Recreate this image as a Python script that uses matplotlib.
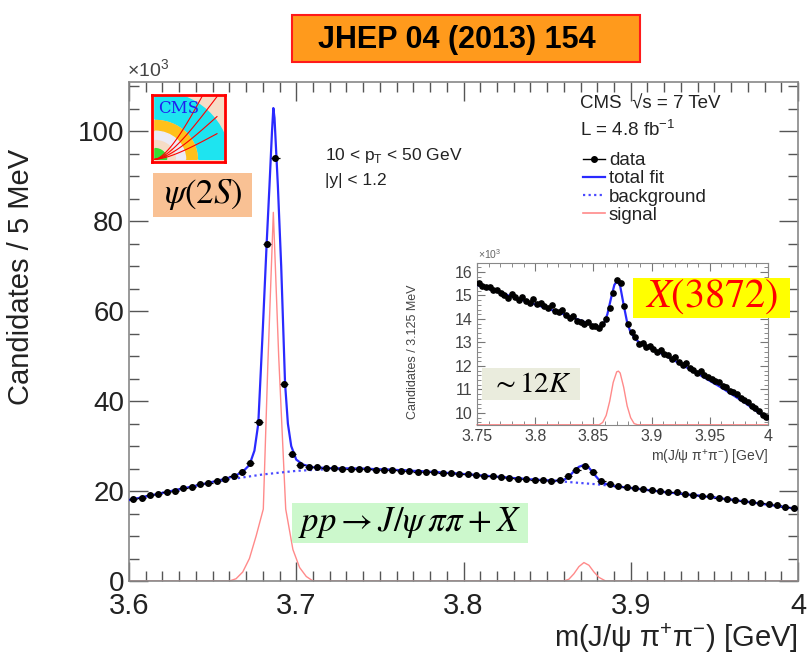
import numpy as np
import matplotlib.pyplot as plt
from matplotlib.patches import Rectangle, Wedge
from matplotlib.lines import Line2D
from matplotlib.ticker import MultipleLocator

plt.rcParams['font.family'] = ['Liberation Sans', 'DejaVu Sans']

# ---- main plot: J/psi pi pi mass, 5 MeV bins, counts in 10^3 ----
m_lo, m_hi, nbins = 3.6, 4.0, 80
counts = [18.2, 18.5, 19.1, 19.3, 19.9, 20.1, 20.7, 20.9, 21.5, 21.7,
          22.3, 22.6, 23.3, 24.3, 26.2, 35.3, 75.0, 94.1, 43.9, 28.2,
          25.8, 25.4, 25.3, 25.1, 25.2, 25.0, 25.0, 24.9, 24.9, 24.8,
          24.8, 24.6, 24.5, 24.5, 24.3, 24.3, 24.2, 24.0, 24.0, 23.9,
          23.7, 23.6, 23.4, 23.3, 23.2, 23.0, 22.8, 22.7, 22.5, 22.4,
          22.3, 22.5, 23.3, 24.8, 25.6, 24.2, 22.3, 21.6, 21.2, 20.9,
          20.7, 20.5, 20.3, 20.1, 19.9, 19.7, 19.4, 19.2, 19.0, 18.8,
          18.5, 18.3, 18.1, 17.9, 17.6, 17.4, 17.1, 16.8, 16.5, 16.2]

# fit curves
total_m = [3.600, 3.620, 3.640, 3.655, 3.660, 3.664, 3.668, 3.672, 3.675, 3.6773,
           3.680, 3.6823, 3.684, 3.6855, 3.6863, 3.687, 3.689, 3.691, 3.6933, 3.695,
           3.697, 3.700, 3.704, 3.710, 3.720, 3.740, 3.760, 3.780, 3.800, 3.820,
           3.840, 3.855, 3.860, 3.863, 3.866, 3.869, 3.872, 3.875, 3.878, 3.881,
           3.885, 3.890, 3.900, 3.920, 3.940, 3.960, 3.980, 4.000]
total_v = [18.0, 19.6, 21.2, 22.5, 23.0, 23.5, 24.3, 25.8, 29.0, 35.0,
           56.0, 75.0, 88.0, 100.0, 105.2, 103.0, 88.0, 70.0, 44.0, 35.0,
           30.0, 27.0, 25.9, 25.3, 25.1, 25.0, 24.7, 24.3, 23.8, 23.2,
           22.6, 22.3, 22.5, 23.2, 24.4, 25.4, 25.8, 25.2, 23.8, 22.5,
           21.6, 21.1, 20.7, 19.8, 19.0, 18.1, 17.1, 16.0]
bkg_m = [3.60, 3.62, 3.64, 3.66, 3.68, 3.70, 3.72, 3.74, 3.76, 3.78, 3.80,
         3.82, 3.84, 3.86, 3.88, 3.90, 3.92, 3.94, 3.96, 3.98, 4.00]
bkg_v = [18.0, 19.6, 21.1, 22.6, 23.7, 24.5, 24.9, 24.9, 24.7, 24.3, 23.8,
         23.2, 22.6, 22.1, 21.5, 20.7, 19.8, 19.0, 18.1, 17.1, 16.0]
sig_m = [3.600, 3.660, 3.664, 3.668, 3.672, 3.676, 3.6803, 3.683, 3.6863, 3.6895,
         3.6937, 3.698, 3.702, 3.706, 3.710, 3.860, 3.863, 3.866, 3.869, 3.872,
         3.875, 3.878, 3.881, 3.885, 4.000]
sig_v = [0, 0, 0.5, 2.0, 5.0, 10.0, 16.0, 48.0, 82.0, 50.0,
         16.0, 7.0, 3.0, 1.0, 0, 0, 0.4, 1.6, 3.2, 4.1,
         3.5, 2.0, 0.8, 0, 0]

# ---- inset: X(3872) region, 3.125 MeV bins ----
in_lo, in_hi, in_nbins = 3.75, 4.0, 80
in_counts = [15.55, 15.40, 15.35, 15.38, 15.22, 15.25, 15.10, 15.02, 14.88, 15.05,
             14.95, 14.80, 14.92, 14.78, 14.70, 14.85, 14.62, 14.70, 14.55, 14.48,
             14.60, 14.35, 14.28, 14.40, 14.15, 14.05, 14.12, 13.92, 13.88, 13.80,
             13.85, 13.70, 13.68, 13.62, 13.78, 14.00, 14.45, 15.10, 15.65, 15.55,
             14.55, 13.80, 13.45, 13.25, 12.95, 12.98, 12.80, 12.85, 12.72, 12.60,
             12.68, 12.50, 12.45, 12.30, 12.38, 12.15, 12.05, 12.12, 11.90, 11.85,
             11.72, 11.78, 11.60, 11.52, 11.45, 11.38, 11.30, 11.15, 11.10, 10.95,
             10.88, 10.80, 10.62, 10.55, 10.48, 10.30, 10.22, 10.10, 9.92, 9.85]
in_fit_m = [3.75, 3.76, 3.78, 3.80, 3.82, 3.84, 3.85, 3.855, 3.859, 3.862,
            3.865, 3.868, 3.8705, 3.873, 3.876, 3.879, 3.882, 3.886, 3.89, 3.90,
            3.92, 3.94, 3.96, 3.98, 4.00]
in_fit_v = [15.45, 15.28, 14.95, 14.62, 14.28, 13.92, 13.72, 13.65, 13.8, 14.2,
            14.85, 15.45, 15.62, 15.4, 14.6, 13.85, 13.42, 13.15, 12.98, 12.75,
            12.22, 11.66, 11.08, 10.44, 9.72]
in_sig_m = [3.75, 3.855, 3.858, 3.861, 3.864, 3.867, 3.870, 3.8715, 3.873, 3.876,
            3.879, 3.882, 3.885, 3.888, 4.0]
in_sig_v = [9.5, 9.5, 9.6, 9.9, 10.5, 11.3, 11.75, 11.78, 11.7, 11.1,
            10.3, 9.8, 9.55, 9.5, 9.5]

W, H = 807, 660
def fx(px):
    return px / W
def fy(py):
    return 1 - py / H

BLUE = '#2a2aff'
PINK = '#ff8a8a'
TXT = '#222222'

fig = plt.figure(figsize=(W / 100, H / 100), dpi=100)

# ---- main axes ----
ax = fig.add_axes([fx(129), fy(581), fx(798) - fx(129), fy(82) - fy(581)])
w = (m_hi - m_lo) / nbins
centres = m_lo + w * (np.arange(nbins) + 0.5)
ax.plot(sig_m, sig_v, color=PINK, lw=1.0, zorder=2)
ax.plot(bkg_m, bkg_v, color='#4a4aff', lw=1.6, ls=(0, (1, 1.5)), zorder=3)
ax.plot(total_m, total_v, color=BLUE, lw=1.6, zorder=4)
ax.errorbar(centres, counts, xerr=w / 2, yerr=0.25, fmt='o', ms=4.0,
            color='black', ecolor='black', elinewidth=0.9, capsize=0, zorder=5)
ax.set_xlim(m_lo, m_hi)
ax.set_ylim(0, 111)
ax.xaxis.set_major_locator(MultipleLocator(0.1))
ax.xaxis.set_minor_locator(MultipleLocator(0.01))
ax.yaxis.set_major_locator(MultipleLocator(20))
ax.yaxis.set_minor_locator(MultipleLocator(5))
ax.tick_params(which='both', direction='in', top=True, right=True, colors='#555555',
               labelcolor=TXT)
ax.tick_params(axis='y', labelsize=20)
ax.tick_params(axis='x', labelsize=21, pad=8)
ax.tick_params(which='major', length=14, width=1)
ax.tick_params(which='minor', length=7, width=1)
ax.set_xticks([3.6, 3.7, 3.8, 3.9, 4.0])
ax.set_xticklabels(['3.6', '3.7', '3.8', '3.9', '4'])
for s in ax.spines.values():
    s.set_color('#888888')
    s.set_linewidth(1.2)
ax.set_ylabel('Candidates / 5 MeV', fontsize=21, color=TXT)
ax.yaxis.set_label_coords(-0.14, 0.61)
ax.set_xlabel(r'm(J/ψ π$^\mathregular{+}$π$^\mathregular{-}$) [GeV]', fontsize=21,
              color=TXT, loc='right', labelpad=1)
fig.text(fx(127), fy(70), r'×10$^\mathregular{3}$', fontsize=14, color='#444444',
         va='center')

# kinematic range and legend
ax.text(0.293, 0.853, r'10 < p$_\mathregular{T}$ < 50 GeV', transform=ax.transAxes,
        fontsize=12.5, color=TXT, va='center')
ax.text(0.293, 0.803, '|y| < 1.2', transform=ax.transAxes, fontsize=12.5,
        color=TXT, va='center')
fig.text(fx(580), fy(104), 'CMS  √s = 7 TeV', fontsize=13.5, color=TXT, va='center')
fig.text(fx(580), fy(130), r'L = 4.8 fb$^\mathregular{-1}$', fontsize=13.5,
         color=TXT, va='center')
handles = [Line2D([], [], color='black', marker='o', ms=4, lw=1),
           Line2D([], [], color=BLUE, lw=1.6),
           Line2D([], [], color='#4a4aff', lw=1.6, ls=(0, (1, 1.5))),
           Line2D([], [], color=PINK, lw=1.2)]
ax.legend(handles, ['data', 'total fit', 'background', 'signal'],
          loc='upper left', bbox_to_anchor=(0.664, 0.878), frameon=False,
          fontsize=13.5, handlelength=1.2, handletextpad=0.2, labelspacing=0.05,
          borderpad=0, labelcolor=TXT)

# ---- inset ----
axi = fig.add_axes([fx(477), fy(425), fx(768) - fx(477), fy(263) - fy(425)])
wi = (in_hi - in_lo) / in_nbins
in_centres = in_lo + wi * (np.arange(in_nbins) + 0.5)
axi.plot(in_sig_m, in_sig_v, color=PINK, lw=1.0, zorder=2, clip_on=False)
axi.plot(in_fit_m, in_fit_v, color=BLUE, lw=1.6, zorder=4)
axi.plot(in_centres, in_counts, 'o', ms=3.8, color='black', zorder=5)
axi.set_xlim(in_lo, in_hi)
axi.set_ylim(9.49, 16.38)
axi.xaxis.set_minor_locator(MultipleLocator(0.01))
axi.yaxis.set_major_locator(MultipleLocator(1))
axi.yaxis.set_minor_locator(MultipleLocator(0.2))
axi.set_xticks([3.75, 3.8, 3.85, 3.9, 3.95, 4.0])
axi.set_xticklabels(['3.75', '3.8', '3.85', '3.9', '3.95', '4'])
axi.tick_params(which='both', direction='in', top=True, right=True, colors='#777777',
                labelcolor='#444444', labelsize=11.5, pad=3)
axi.tick_params(which='major', length=6)
axi.tick_params(which='minor', length=3)
for s in axi.spines.values():
    s.set_color('#888888')
axi.set_ylabel('Candidates / 3.125 MeV', fontsize=9, color='#444444')
axi.yaxis.set_label_coords(-0.2, 0.45)
axi.set_xlabel(r'm(J/ψ π$^\mathregular{+}$π$^\mathregular{-}$) [GeV]', fontsize=10,
               color='#444444', loc='right', labelpad=3)
fig.text(fx(478), fy(254), r'×10$^\mathregular{3}$', fontsize=7.5, color='#666666',
         va='center')

# ---- annotation boxes ----
def box(x0, y0, x1, y1, fc, ec='none', lw=0):
    fig.patches.append(Rectangle((fx(x0), fy(y1)), fx(x1) - fx(x0), fy(y0) - fy(y1),
                                 transform=fig.transFigure, facecolor=fc,
                                 edgecolor=ec, linewidth=lw, zorder=10))

box(292, 15, 640, 62, '#ff9a1c', ec='#ff1a1a', lw=1.5)
fig.text(fx(457), fy(40), 'JHEP 04 (2013) 154', fontsize=22, fontweight='bold',
         color='black', ha='center', va='center', zorder=11)

box(153, 173, 252, 217, '#f9c194')
fig.text(fx(203), fy(195), r'$\psi(2S)$', fontsize=25, math_fontfamily='stix',
         ha='center', va='center', zorder=11)

box(633, 278, 790, 318, '#ffff00')
fig.text(fx(712), fy(297), r'$X\mathrm{(3872)}$', fontsize=29, color='red',
         math_fontfamily='stix', ha='center', va='center', zorder=11)

box(482, 368, 580, 400, '#eaecdd')
fig.text(fx(531), fy(384), r'$\sim 12K$', fontsize=21, math_fontfamily='stix',
         ha='center', va='center', zorder=11)

box(292, 503, 528, 543, '#ccf8cc')
fig.text(fx(410), fy(523), r'$pp \rightarrow J/\psi\,\pi\pi + X$', fontsize=25,
         math_fontfamily='stix', ha='center', va='center', zorder=11)

# ---- CMS logo ----
axl = fig.add_axes([fx(152), fy(162), fx(225) - fx(152), fy(95) - fy(162)])
axl.set_xlim(0, 1)
axl.set_ylim(0, 1)
axl.set_facecolor('#f6dcc6')
c = (0.04, 0.04)
axl.add_patch(Wedge(c, 1.02, 0, 90, width=0.42, color='#1ee4f0'))
axl.add_patch(Wedge(c, 0.58, 0, 90, width=0.16, color='#ffc01a'))
axl.add_patch(Wedge(c, 0.42, 0, 90, width=0.14, color='#ecebf6'))
axl.add_patch(Wedge(c, 0.28, 0, 90, width=0.12, color='#f6dcc6'))
axl.add_patch(Wedge(c, 0.16, 0, 90, color='#33dd33'))
for k in [1.6, 1.1, 0.75, 0.45]:
    t = np.linspace(0, 1, 30)
    axl.plot(0.04 + 0.85 * t, 0.04 + k * 0.85 * t ** 1.6 * (1.3 - 0.3 * t),
             color='red', lw=0.8)
axl.text(0.08, 0.8, 'CMS', fontsize=12, color='#2020ee', family='DejaVu Serif',
         va='center')
axl.set_xticks([])
axl.set_yticks([])
for s in axl.spines.values():
    s.set_color('red')
    s.set_linewidth(2)

fig.savefig('out.png', dpi=100)
